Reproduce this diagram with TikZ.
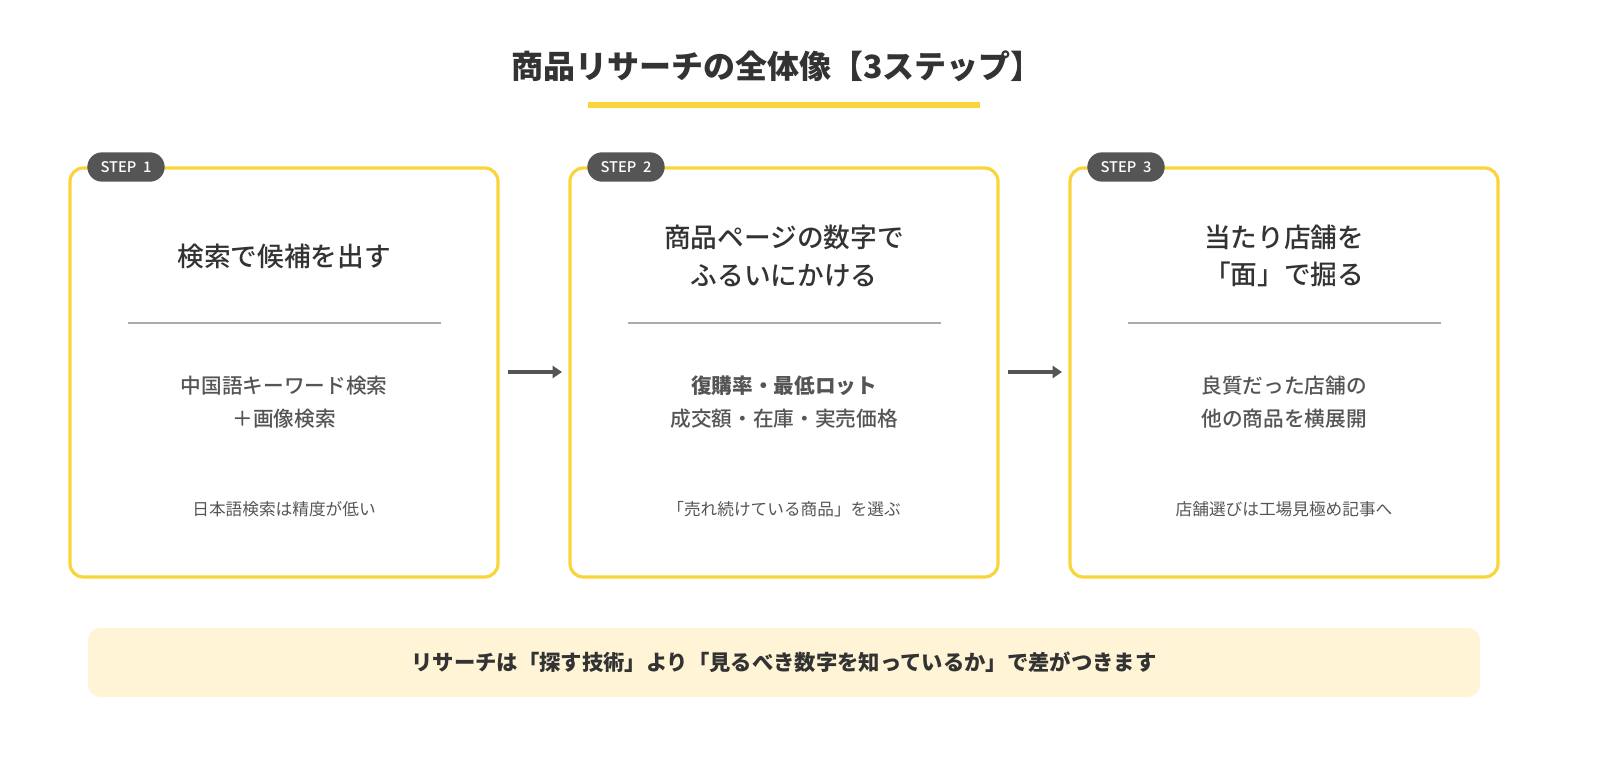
\documentclass[tikz,border=0pt]{standalone}
\usepackage{fontspec}
\setmainfont{Noto Sans CJK JP}
\newfontfamily\jpm{Noto Sans CJK JP Medium}
\usetikzlibrary{arrows.meta}
\definecolor{yel}{HTML}{F9D43A}
\definecolor{dk}{HTML}{333333}
\definecolor{md}{HTML}{555555}
\definecolor{banner}{HTML}{FFF5D6}
\tikzset{x=0.75pt,y=-0.75pt,
 card/.style={draw=yel,line width=2.4pt,rounded corners=10pt},
 badge/.style={fill=md,text=white,rounded corners=11pt,minimum width=58pt,minimum height=22pt,inner sep=0pt,font=\jpm\fontsize{11}{13}\selectfont},
 head/.style={text=dk,font=\jpm\fontsize{20}{28}\selectfont,align=center},
 body/.style={text=md,font=\jpm\fontsize{15.5}{25}\selectfont,align=center},
 note/.style={text=md,font=\fontsize{12.5}{15}\selectfont},
 sep/.style={draw=gray!65,line width=1pt},
 arr/.style={draw=md,line width=2.6pt,-{Triangle[length=7pt,width=9pt]}}}
\begin{document}
\begin{tikzpicture}
\useasboundingbox (0,0) rectangle (1600,760);
\node[text=dk,font=\fontsize{24}{28}\selectfont\bfseries] (title) at (777,66) {商品リサーチの全体像【3ステップ】};
\draw[yel,line width=3.8pt] (588,105) -- (980,105);
\foreach \i/\x in {1/70,2/570,3/1070}{
 \draw[card] (\x,168) rectangle (\x+428,577);
 \node[badge] (b\i) at (\x+56,167) {STEP\ \ \i};
 \draw[sep] (\x+58,323) -- (\x+371,323);
}
\node[head] (h1) at (284,256) {検索で候補を出す};
\node[head] (h2) at (784,256) {商品ページの数字で\\ふるいにかける};
\node[head] (h3) at (1284,256) {当たり店舗を\\「面」で掘る};
\node[body] (t1) at (284,402) {中国語キーワード検索\\＋画像検索};
\node[body] (t2) at (784,402) {\bfseries 復購率・最低ロット\\\jpm 成交額・在庫・実売価格};
\node[body] (t3) at (1284,402) {良質だった店舗の\\他の商品を横展開};
\node[note] (n1) at (284,509) {日本語検索は精度が低い};
\node[note] (n2) at (784,509) {「売れ続けている商品」を選ぶ};
\node[note] (n3) at (1284,509) {店舗選びは工場見極め記事へ};
\coordinate (a1s) at (508,372); \coordinate (a1e) at (562,372);
\coordinate (a2s) at (1008,372); \coordinate (a2e) at (1062,372);
\draw[arr] (a1s) -- (a1e);
\draw[arr] (a2s) -- (a2e);
\fill[banner,rounded corners=9pt] (88,628) rectangle (1480,697);
\node[text=dk,font=\fontsize{16}{20}\selectfont\bfseries] (msg) at (784,662) {リサーチは「探す技術」より「見るべき数字を知っているか」で差がつきます};
\end{tikzpicture}
\end{document}
